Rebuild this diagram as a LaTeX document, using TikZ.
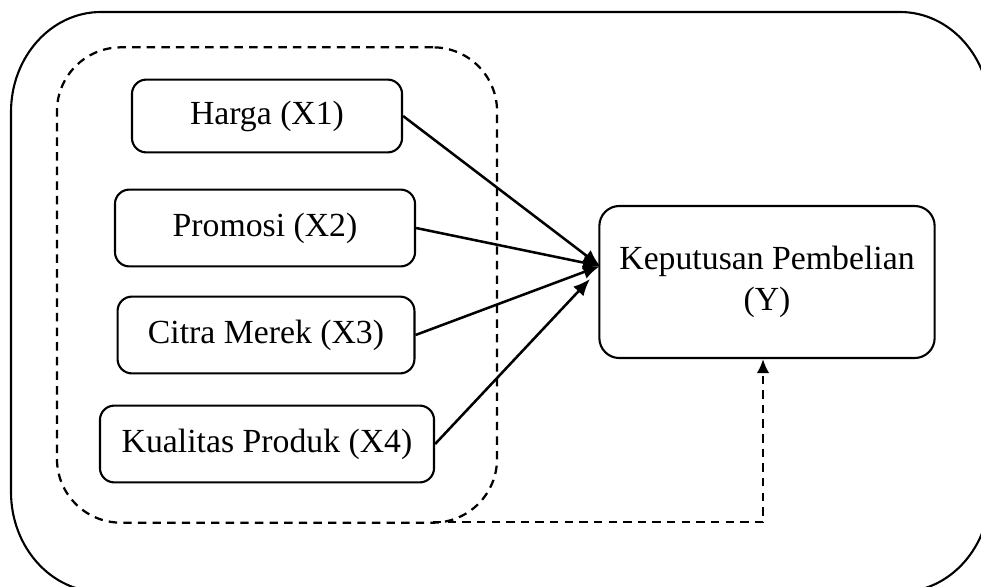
\documentclass[tikz,border=0pt]{standalone}
\usepackage{fontspec}
\setmainfont{Liberation Serif}
\usetikzlibrary{arrows.meta}
\usetikzlibrary{positioning}

\begin{document}
\begin{tikzpicture}[x=0.0125cm,y=-0.0125cm,
  font=\fontsize{12}{14.5}\selectfont,
  box/.style={draw,line width=0.75pt,rounded corners=0.18cm,align=center,inner sep=0pt},
  dashline/.style={line width=0.8pt,dash pattern=on 3pt off 2.2pt},
  link/.style={line width=0.9pt,-{Latex[length=6pt,width=5pt]}}]
  \useasboundingbox (0,0) rectangle (981,586);
  \clip (0,0) rectangle (981,586);
  % outer frame
  \draw[line width=0.75pt] (11,112) .. controls (11,57) and (51,12) .. (101,12) -- (900,12)
    .. controls (950,12) and (990,57) .. (990,112) -- (990,492)
    .. controls (990,547) and (950,592) .. (900,592) -- (101,592)
    .. controls (51,592) and (11,547) .. (11,492) -- cycle;
  % group of the independent variables
  \node[draw,dashline,rounded corners=0.8cm,minimum width=5.5cm,minimum height=5.94cm] (grp) at (277,285) {};
  \node[box,minimum width=3.375cm,minimum height=0.91cm] (harga) at (267,116) {Harga (X1)};
  \node[box,minimum width=3.75cm,minimum height=0.96cm] (promosi) at (265,228) {Promosi (X2)};
  \node[box,minimum width=3.71cm,minimum height=0.96cm] (citra) at (266,335) {Citra Merek (X3)};
  \node[box,minimum width=4.175cm,minimum height=0.96cm] (kualitas) at (267,444) {Kualitas Produk (X4)};
  \node[box,rounded corners=0.25cm,minimum width=4.19cm,minimum height=1.9cm] (kep) at (767,282)
    {Keputusan Pembelian\\(Y)};
  \coordinate (hub) at (600,266);
  \coordinate (hubb) at (590,279);
  \coordinate (grpcorner) at (433,522);
  \draw[link] (harga.east) -- (hub);
  \draw[link] (promosi.east) -- (hub);
  \draw[link] (citra.east) -- (hub);
  \draw[link] (kualitas.east) -- (hubb);
  \draw[dashline,-{Latex[length=5pt,width=4.5pt]}] (grpcorner) -| ([xshift=-0.05cm]kep.south);
\end{tikzpicture}
\end{document}
